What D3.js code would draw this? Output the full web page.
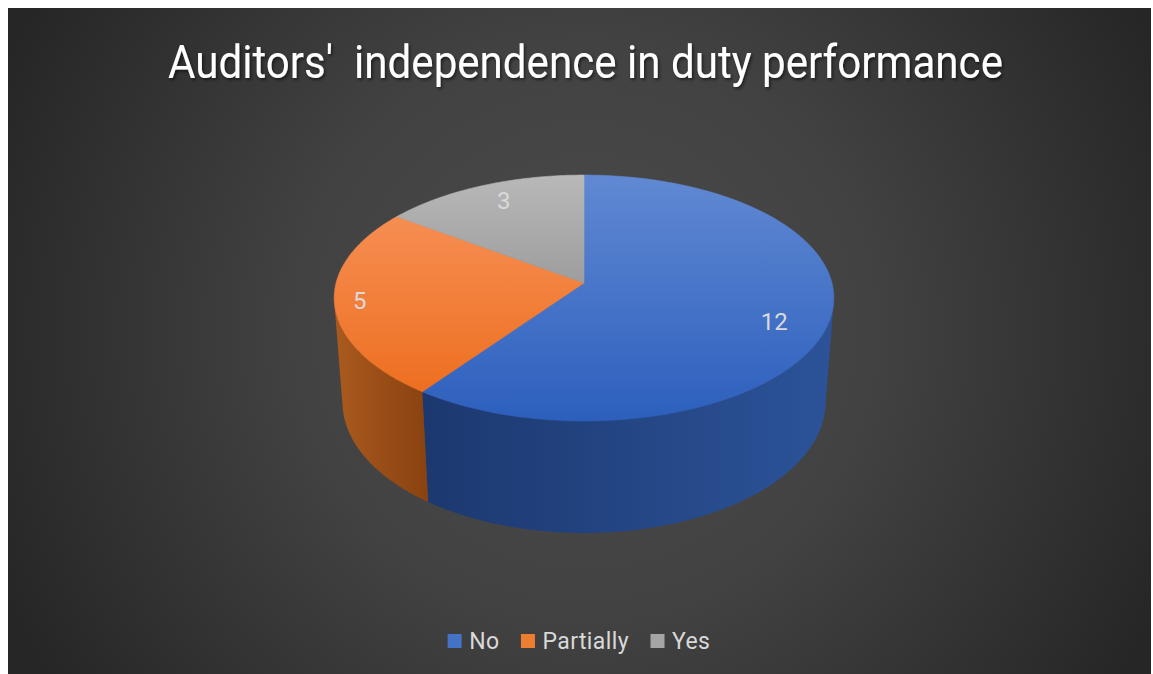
<!DOCTYPE html>
<html>
<head>
<meta charset="utf-8">
<script src="https://cdn.jsdelivr.net/npm/d3@7"></script>
<style>
  html, body { margin: 0; padding: 0; background: #ffffff; }
  svg { display: block; }
</style>
</head>
<body>
<svg id="chart" width="1153" height="674"></svg>
<script>
// Survey answers: auditors' independence in duty performance
const categories = ["No", "Partially", "Yes"];
const counts = [12, 5, 3];
const chartTitle = "Auditors'  independence in duty performance";

const palette = {
  No:        { base: "#4472c4", topA: "#6189d3", topB: "#2c5fbd", sideA: "#1c386f", sideB: "#2c5399" },
  Partially: { base: "#ed7d31", topA: "#f8955e", topB: "#ec6a18", sideA: "#aa5a1e", sideB: "#894210" },
  Yes:       { base: "#a5a5a5", topA: "#b8b8b8", topB: "#7c7c7c", sideA: "#8a8a8a", sideB: "#6e6e6e" }
};

const W = 1153, H = 674;
const svg = d3.select("#chart");
const defs = svg.append("defs");

// ---- background panel ----
const bg = defs.append("radialGradient").attr("id", "bgGrad")
  .attr("gradientUnits", "userSpaceOnUse")
  .attr("cx", 585).attr("cy", 330).attr("r", 640);
bg.append("stop").attr("offset", "0%").attr("stop-color", "#4b4b4b");
bg.append("stop").attr("offset", "45%").attr("stop-color", "#424242");
bg.append("stop").attr("offset", "100%").attr("stop-color", "#262626");
svg.append("rect").attr("x", 8).attr("y", 8).attr("width", 1143).attr("height", 666)
  .attr("fill", "url(#bgGrad)");

// ---- title ----
const shadow = defs.append("filter").attr("id", "titleShadow")
  .attr("x", "-10%").attr("y", "-30%").attr("width", "120%").attr("height", "160%");
shadow.append("feDropShadow").attr("dx", 1.5).attr("dy", 2).attr("stdDeviation", 1.5)
  .attr("flood-color", "#000").attr("flood-opacity", 0.55);

svg.append("text")
  .attr("x", 585.5).attr("y", 78)
  .attr("text-anchor", "middle")
  .attr("font-family", "Roboto, 'Noto Sans', sans-serif")
  .attr("font-size", 46)
  .attr("textLength", 835)
  .attr("lengthAdjust", "spacingAndGlyphs")
  .attr("fill", "#ffffff")
  .attr("filter", "url(#titleShadow)")
  .style("white-space", "pre")
  .text(chartTitle);

// ---- 3D perspective camera for the pie ----
const cam = { cx: 584, cy: 283, f: 1772, D: 7.147, phi: 29.24 * Math.PI / 180, depth: 0.4935 };
const sP = Math.sin(cam.phi), cP = Math.cos(cam.phi);

// world: x right, y up, z toward the viewer; angle t clockwise from the back (12 o'clock)
function project(t, r, y) {
  const x = r * Math.sin(t), z = -r * Math.cos(t);
  const qx = x, qy = y - cam.D * sP, qz = z - cam.D * cP;
  const xc = qx;
  const yc = qy * cP - qz * sP;
  const zc = -qy * sP - qz * cP;
  return [cam.cx + cam.f * xc / zc, cam.cy - cam.f * yc / zc];
}

const arcSamples = (a0, a1) => {
  const n = Math.max(2, Math.ceil(Math.abs(a1 - a0) / (Math.PI / 360)));
  return d3.range(n + 1).map(i => a0 + (a1 - a0) * i / n);
};

const line = d3.line();
const pie = d3.pie().sort(null).startAngle(0).endAngle(2 * Math.PI);
const arcs = pie(counts).map((d, i) => ({ ...d, cat: categories[i] }));

// front wall is visible where the outward normal faces the camera
const limit = Math.acos(-1 / (cam.D * cP));
const visA = limit, visB = 2 * Math.PI - limit;

const pieG = svg.append("g");

// side walls
arcs.forEach(d => {
  const a0 = Math.max(d.startAngle, visA), a1 = Math.min(d.endAngle, visB);
  if (a1 <= a0) return;
  const ts = arcSamples(a0, a1);
  const topPts = ts.map(t => project(t, 1, 0));
  const botPts = ts.slice().reverse().map(t => project(t, 1, -cam.depth));
  const xs = topPts.concat(botPts).map(p => p[0]);
  const id = "side-" + d.cat;
  const g = defs.append("linearGradient").attr("id", id)
    .attr("gradientUnits", "userSpaceOnUse")
    .attr("x1", d3.min(xs)).attr("x2", d3.max(xs)).attr("y1", 0).attr("y2", 0);
  g.append("stop").attr("offset", "0%").attr("stop-color", palette[d.cat].sideA);
  g.append("stop").attr("offset", "100%").attr("stop-color", palette[d.cat].sideB);
  pieG.append("path")
    .attr("d", line(topPts.concat(botPts)) + "Z")
    .attr("fill", `url(#${id})`);
});

// top face slices
const topY0 = project(0, 1, 0)[1], topY1 = project(Math.PI, 1, 0)[1];
arcs.forEach(d => {
  const id = "top-" + d.cat;
  const g = defs.append("linearGradient").attr("id", id)
    .attr("gradientUnits", "userSpaceOnUse")
    .attr("x1", 0).attr("x2", 0).attr("y1", topY0).attr("y2", topY1);
  g.append("stop").attr("offset", "0%").attr("stop-color", palette[d.cat].topA);
  g.append("stop").attr("offset", "100%").attr("stop-color", palette[d.cat].topB);
  const pts = [project(0, 0, 0)].concat(arcSamples(d.startAngle, d.endAngle).map(t => project(t, 1, 0)));
  pieG.append("path")
    .attr("d", line(pts) + "Z")
    .attr("fill", `url(#${id})`)
    .attr("stroke", `url(#${id})`)
    .attr("stroke-width", 0.6);
});

// value labels on the top face (radius and angular nudge per slice)
const labelPlace = { No: { r: 0.80, dt: 4.7 }, Partially: { r: 0.9, dt: 0 }, Yes: { r: 0.82, dt: 1.5 } };
arcs.forEach(d => {
  const pl = labelPlace[d.cat];
  const mid = (d.startAngle + d.endAngle) / 2 + pl.dt * Math.PI / 180;
  const p = project(mid, pl.r, 0);
  svg.append("text")
    .attr("x", p[0]).attr("y", p[1])
    .attr("dy", "0.35em")
    .attr("text-anchor", "middle")
    .attr("font-family", "Roboto, 'Noto Sans', sans-serif")
    .attr("font-size", 24)
    .attr("fill", "#d9d9d9")
    .text(d.data);
});

// ---- legend ----
const legend = svg.append("g");
const legFont = 23, sw = 14, gapSw = 7.5, gapItem = 21.5;
const items = categories.map(c => {
  const t = legend.append("text")
    .attr("font-family", "Roboto, 'Noto Sans', sans-serif")
    .attr("font-size", legFont)
    .attr("letter-spacing", 0.4)
    .attr("fill", "#d9d9d9")
    .text(c);
  return { c, t, w: t.node().getComputedTextLength() };
});
const totalW = d3.sum(items, it => sw + gapSw + it.w) + gapItem * (items.length - 1);
let lx = 579 - totalW / 2;
const baseY = 649;
items.forEach(it => {
  legend.append("rect").attr("x", lx).attr("y", baseY - 15).attr("width", sw).attr("height", sw)
    .attr("fill", palette[it.c].base);
  it.t.attr("x", lx + sw + gapSw).attr("y", baseY);
  lx += sw + gapSw + it.w + gapItem;
});
</script>
</body>
</html>
